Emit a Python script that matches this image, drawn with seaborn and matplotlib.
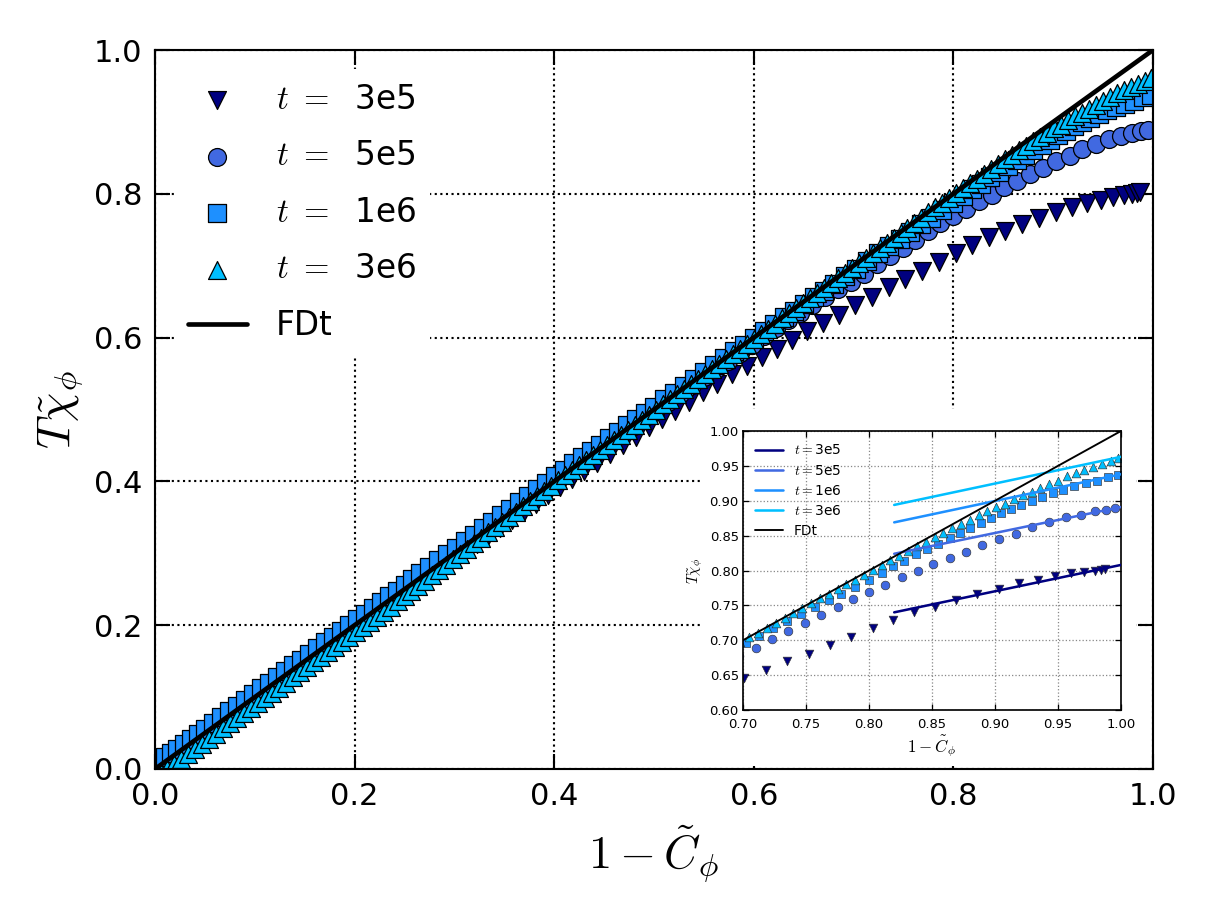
import matplotlib
matplotlib.use("Agg")
import matplotlib.pyplot as plt
from matplotlib.patches import Rectangle
import seaborn as sns

# ---------------- data ----------------
labels = ["3e5", "5e5", "1e6", "3e6"]
colors = ["#000080", "#4169E1", "#1E90FF", "#00BFFF"]
markers = ["v", "o", "s", "^"]

x_3e5 = [0.000, 0.006, 0.013, 0.020, 0.028, 0.036, 0.045, 0.054, 0.063, 0.072,
         0.081, 0.090, 0.099, 0.108, 0.117, 0.126, 0.135, 0.145, 0.155, 0.165,
         0.175, 0.185, 0.195, 0.205, 0.215, 0.225, 0.235, 0.246, 0.257, 0.268,
         0.279, 0.290, 0.301, 0.312, 0.323, 0.334, 0.346, 0.358, 0.370, 0.382,
         0.394, 0.406, 0.418, 0.430, 0.443, 0.456, 0.469, 0.482, 0.495, 0.508,
         0.521, 0.535, 0.549, 0.563, 0.578, 0.593, 0.608, 0.623, 0.638, 0.653,
         0.669, 0.685, 0.701, 0.718, 0.735, 0.752, 0.769, 0.786, 0.803, 0.819,
         0.836, 0.852, 0.869, 0.886, 0.903, 0.919, 0.934, 0.948, 0.960, 0.971,
         0.979, 0.984, 0.987]
y_3e5 = [0.000, 0.006, 0.013, 0.020, 0.027, 0.035, 0.044, 0.053, 0.062, 0.070,
         0.079, 0.088, 0.097, 0.105, 0.114, 0.123, 0.132, 0.142, 0.152, 0.161,
         0.171, 0.181, 0.191, 0.200, 0.210, 0.220, 0.229, 0.240, 0.250, 0.261,
         0.271, 0.282, 0.292, 0.303, 0.313, 0.324, 0.335, 0.346, 0.358, 0.369,
         0.381, 0.392, 0.403, 0.414, 0.426, 0.438, 0.450, 0.462, 0.475, 0.487,
         0.498, 0.511, 0.524, 0.536, 0.549, 0.560, 0.573, 0.584, 0.596, 0.609,
         0.620, 0.632, 0.646, 0.657, 0.670, 0.681, 0.693, 0.705, 0.717, 0.729,
         0.740, 0.748, 0.758, 0.766, 0.774, 0.782, 0.787, 0.792, 0.796, 0.798,
         0.800, 0.801, 0.802]

x_5e5 = [0.000, 0.008, 0.016, 0.025, 0.034, 0.043, 0.052, 0.061, 0.070, 0.080,
         0.090, 0.100, 0.110, 0.120, 0.130, 0.140, 0.150, 0.160, 0.171, 0.182,
         0.193, 0.204, 0.215, 0.226, 0.237, 0.248, 0.259, 0.270, 0.281, 0.292,
         0.303, 0.314, 0.325, 0.336, 0.347, 0.358, 0.370, 0.382, 0.394, 0.406,
         0.418, 0.430, 0.442, 0.454, 0.466, 0.478, 0.490, 0.502, 0.514, 0.526,
         0.538, 0.550, 0.562, 0.574, 0.586, 0.598, 0.610, 0.622, 0.634, 0.646,
         0.658, 0.671, 0.684, 0.697, 0.710, 0.723, 0.736, 0.749, 0.762, 0.775,
         0.787, 0.800, 0.813, 0.826, 0.839, 0.851, 0.864, 0.877, 0.890, 0.903,
         0.917, 0.929, 0.943, 0.956, 0.968, 0.979, 0.988, 0.995]
y_5e5 = [0.000, 0.008, 0.016, 0.025, 0.034, 0.043, 0.052, 0.061, 0.070, 0.080,
         0.090, 0.100, 0.110, 0.120, 0.130, 0.140, 0.150, 0.160, 0.171, 0.182,
         0.193, 0.204, 0.215, 0.226, 0.237, 0.248, 0.259, 0.270, 0.281, 0.292,
         0.303, 0.314, 0.325, 0.336, 0.347, 0.358, 0.370, 0.382, 0.394, 0.406,
         0.418, 0.429, 0.441, 0.453, 0.465, 0.476, 0.488, 0.499, 0.511, 0.522,
         0.534, 0.545, 0.556, 0.568, 0.579, 0.590, 0.602, 0.613, 0.624, 0.634,
         0.645, 0.657, 0.668, 0.677, 0.689, 0.702, 0.713, 0.725, 0.736, 0.748,
         0.759, 0.769, 0.779, 0.790, 0.799, 0.809, 0.818, 0.827, 0.836, 0.845,
         0.853, 0.862, 0.869, 0.876, 0.880, 0.885, 0.887, 0.889]

x_1e6 = [0.000, 0.005, 0.010, 0.016, 0.022, 0.029, 0.036, 0.043, 0.050, 0.058,
         0.066, 0.074, 0.082, 0.090, 0.098, 0.106, 0.114, 0.122, 0.130, 0.138,
         0.146, 0.154, 0.162, 0.170, 0.178, 0.186, 0.194, 0.202, 0.210, 0.218,
         0.226, 0.234, 0.242, 0.250, 0.258, 0.266, 0.275, 0.284, 0.293, 0.302,
         0.311, 0.320, 0.329, 0.338, 0.347, 0.356, 0.365, 0.374, 0.383, 0.392,
         0.401, 0.410, 0.419, 0.428, 0.437, 0.446, 0.455, 0.464, 0.473, 0.482,
         0.491, 0.500, 0.510, 0.520, 0.530, 0.540, 0.550, 0.560, 0.570, 0.580,
         0.590, 0.600, 0.610, 0.620, 0.630, 0.640, 0.650, 0.660, 0.670, 0.680,
         0.691, 0.702, 0.713, 0.724, 0.735, 0.746, 0.757, 0.768, 0.778, 0.789,
         0.800, 0.810, 0.819, 0.828, 0.837, 0.846, 0.855, 0.864, 0.872, 0.880,
         0.889, 0.897, 0.905, 0.913, 0.921, 0.929, 0.937, 0.946, 0.954, 0.963,
         0.972, 0.981, 0.990, 0.998]
y_1e6 = [0.004, 0.010, 0.016, 0.022, 0.028, 0.035, 0.042, 0.049, 0.056, 0.064,
         0.072, 0.080, 0.088, 0.096, 0.104, 0.112, 0.120, 0.128, 0.136, 0.144,
         0.152, 0.160, 0.168, 0.176, 0.184, 0.192, 0.200, 0.208, 0.216, 0.224,
         0.232, 0.240, 0.248, 0.256, 0.264, 0.272, 0.281, 0.290, 0.299, 0.308,
         0.317, 0.326, 0.335, 0.344, 0.353, 0.362, 0.371, 0.380, 0.389, 0.398,
         0.407, 0.416, 0.425, 0.434, 0.442, 0.451, 0.460, 0.469, 0.478, 0.487,
         0.495, 0.504, 0.514, 0.523, 0.533, 0.543, 0.552, 0.562, 0.571, 0.581,
         0.590, 0.600, 0.609, 0.619, 0.628, 0.637, 0.647, 0.656, 0.665, 0.675,
         0.685, 0.696, 0.706, 0.717, 0.727, 0.737, 0.747, 0.758, 0.767, 0.777,
         0.787, 0.797, 0.806, 0.814, 0.823, 0.831, 0.838, 0.847, 0.854, 0.861,
         0.868, 0.875, 0.882, 0.888, 0.894, 0.900, 0.906, 0.911, 0.916, 0.921,
         0.925, 0.929, 0.934, 0.937]

x_3e6 = [0.000, 0.006, 0.012, 0.019, 0.026, 0.033, 0.040, 0.047, 0.054, 0.061,
         0.068, 0.075, 0.082, 0.089, 0.096, 0.103, 0.110, 0.117, 0.124, 0.131,
         0.138, 0.145, 0.152, 0.159, 0.166, 0.173, 0.180, 0.187, 0.194, 0.201,
         0.208, 0.215, 0.222, 0.229, 0.236, 0.243, 0.250, 0.257, 0.264, 0.271,
         0.278, 0.285, 0.292, 0.299, 0.306, 0.313, 0.320, 0.327, 0.334, 0.341,
         0.348, 0.355, 0.362, 0.369, 0.376, 0.383, 0.390, 0.397, 0.404, 0.411,
         0.418, 0.425, 0.432, 0.439, 0.446, 0.453, 0.460, 0.467, 0.474, 0.481,
         0.488, 0.495, 0.502, 0.509, 0.516, 0.523, 0.530, 0.537, 0.544, 0.551,
         0.558, 0.565, 0.572, 0.579, 0.586, 0.593, 0.600, 0.607, 0.614, 0.621,
         0.628, 0.635, 0.642, 0.649, 0.656, 0.663, 0.670, 0.677, 0.684, 0.691,
         0.698, 0.705, 0.712, 0.719, 0.726, 0.733, 0.740, 0.747, 0.754, 0.761,
         0.768, 0.775, 0.782, 0.789, 0.796, 0.803, 0.810, 0.817, 0.824, 0.831,
         0.838, 0.845, 0.852, 0.859, 0.866, 0.873, 0.880, 0.887, 0.894, 0.901,
         0.908, 0.915, 0.922, 0.929, 0.936, 0.943, 0.950, 0.957, 0.964, 0.971,
         0.978, 0.985, 0.992, 0.998]
y_3e6 = [-0.012, -0.006, 0.000, 0.007, 0.014, 0.021, 0.028, 0.035, 0.042, 0.049,
         0.057, 0.064, 0.071, 0.078, 0.085, 0.092, 0.099, 0.106, 0.113, 0.120,
         0.128, 0.135, 0.142, 0.149, 0.156, 0.163, 0.170, 0.177, 0.184, 0.191,
         0.198, 0.205, 0.212, 0.219, 0.226, 0.234, 0.241, 0.248, 0.255, 0.262,
         0.270, 0.277, 0.284, 0.292, 0.299, 0.306, 0.314, 0.321, 0.329, 0.336,
         0.344, 0.351, 0.358, 0.366, 0.373, 0.380, 0.387, 0.394, 0.402, 0.409,
         0.416, 0.423, 0.430, 0.437, 0.444, 0.451, 0.458, 0.465, 0.472, 0.479,
         0.486, 0.493, 0.500, 0.507, 0.514, 0.521, 0.528, 0.535, 0.542, 0.549,
         0.556, 0.563, 0.570, 0.577, 0.584, 0.591, 0.598, 0.605, 0.612, 0.619,
         0.627, 0.634, 0.641, 0.648, 0.655, 0.662, 0.669, 0.676, 0.683, 0.690,
         0.697, 0.704, 0.711, 0.718, 0.725, 0.732, 0.739, 0.746, 0.753, 0.760,
         0.767, 0.774, 0.781, 0.787, 0.794, 0.801, 0.808, 0.815, 0.821, 0.828,
         0.835, 0.841, 0.848, 0.854, 0.861, 0.867, 0.873, 0.879, 0.885, 0.891,
         0.896, 0.902, 0.908, 0.913, 0.918, 0.924, 0.929, 0.935, 0.940, 0.944,
         0.948, 0.953, 0.957, 0.961]

# FDt reference line
fdt_x = [0.0, 1.0]
fdt_y = [0.0, 1.0]

# late-time fit lines shown in the inset
fit_x = [0.82, 1.00]
fit_3e5 = [0.740, 0.808]
fit_5e5 = [0.824, 0.891]
fit_1e6 = [0.869, 0.938]
fit_3e6 = [0.894, 0.963]

main_ticks = [0.0, 0.2, 0.4, 0.6, 0.8, 1.0]
inset_xticks = [0.70, 0.75, 0.80, 0.85, 0.90, 0.95, 1.00]
inset_yticks = [0.60, 0.65, 0.70, 0.75, 0.80, 0.85, 0.90, 0.95, 1.00]

xs = [x_3e5, x_5e5, x_1e6, x_3e6]
ys = [y_3e5, y_5e5, y_1e6, y_3e6]
fits = [fit_3e5, fit_5e5, fit_1e6, fit_3e6]

# ---------------- styling ----------------
sns.set_style("white")
plt.rcParams.update({
    "font.family": ["DejaVu Sans"],
    "mathtext.fontset": "cm",
    "text.color": "black",
    "axes.labelcolor": "black",
    "xtick.color": "black",
    "ytick.color": "black",
    "xtick.direction": "in",
    "ytick.direction": "in",
    "xtick.top": True,
    "ytick.right": True,
    "xtick.bottom": True,
    "ytick.left": True,
    "axes.edgecolor": "black",
    "axes.linewidth": 1.0,
})

W, H = 1214, 914
DPI = 152
fig = plt.figure(figsize=(W / DPI, H / DPI), dpi=DPI)
fig.patch.set_facecolor("white")

ax = fig.add_axes([155 / W, (H - 769) / H, 998 / W, 719 / H])
ax.set_zorder(0)

handles = []
for xv, yv, c, m, lab in zip(xs, ys, colors, markers, labels):
    sns.scatterplot(x=xv, y=yv, marker=m, s=72, color=c, edgecolor="black",
                    linewidth=0.6, ax=ax, legend=False, zorder=2, clip_on=True)
    h = ax.collections[-1]
    h.set_label(r"$t\ =\ $ " + lab)
    handles.append(h)

sns.lineplot(x=fdt_x, y=fdt_y, color="black", linewidth=2.2, ax=ax,
             legend=False, zorder=3)
fdt_line = ax.lines[-1]
fdt_line.set_label("FDt")
handles.append(fdt_line)

ax.set_xlim(0, 1)
ax.set_ylim(0, 1)
ax.set_xticks(main_ticks)
ax.set_yticks(main_ticks)
ax.set_xticklabels([f"{v:.1f}" for v in main_ticks])
ax.set_yticklabels([f"{v:.1f}" for v in main_ticks])
ax.tick_params(labelsize=14.5, length=7, width=1, pad=6, colors="black")
ax.grid(True, color="black", linestyle=":", linewidth=1.0)
ax.set_xlabel(r"$1-\tilde{C}_\phi$", fontsize=22, labelpad=6)
ax.set_ylabel(r"$T\tilde{\chi}_\phi$", fontsize=22, labelpad=4)

leg = ax.legend(handles=handles, loc="upper left", fontsize=15.5,
                scatterpoints=1, handlelength=1.8, handletextpad=0.9,
                labelspacing=0.72, borderaxespad=0.6, frameon=True,
                fancybox=False, framealpha=1.0)
leg.get_frame().set_edgecolor("white")
leg.get_frame().set_facecolor("white")

# white background behind the inset (covers the main grid)
fig.add_artist(Rectangle((700 / W, (H - 766) / H), 436 / W, 357 / H,
                         transform=fig.transFigure, facecolor="white",
                         edgecolor="none", zorder=1))

# ---------------- inset ----------------
axi = fig.add_axes([743 / W, (H - 710) / H, 378 / W, 279 / H])
axi.set_zorder(2)
axi.set_facecolor("white")

inset_ms = [17, 17, 16, 17]
for xv, yv, c, m, s in zip(xs, ys, colors, markers, inset_ms):
    sns.scatterplot(x=xv, y=yv, marker=m, s=s, color=c, edgecolor="#333333",
                    linewidth=0.3, ax=axi, legend=False, zorder=2)

fit_handles = []
for fv, c, lab in zip(fits, colors, labels):
    sns.lineplot(x=fit_x, y=fv, color=c, linewidth=1.2, ax=axi,
                 legend=False, zorder=3)
    ln = axi.lines[-1]
    ln.set_label(r"$t=$" + lab)
    fit_handles.append(ln)
sns.lineplot(x=fdt_x, y=fdt_y, color="black", linewidth=0.9, ax=axi,
             legend=False, zorder=3)
ln = axi.lines[-1]
ln.set_label("FDt")
fit_handles.append(ln)

axi.set_xlim(0.70, 1.00)
axi.set_ylim(0.60, 1.00)
axi.set_xticks(inset_xticks)
axi.set_yticks(inset_yticks)
axi.set_xticklabels([f"{v:.2f}" for v in inset_xticks])
axi.set_yticklabels([f"{v:.2f}" for v in inset_yticks])
axi.tick_params(axis="both", labelsize=6.2, length=3, width=0.6, colors="black")
axi.tick_params(axis="x", pad=4)
axi.tick_params(axis="y", pad=2)
for sp in axi.spines.values():
    sp.set_linewidth(0.8)
axi.grid(True, color="#888888", linestyle=":", linewidth=0.6)
axi.set_xlabel(r"$1-\tilde{C}_\phi$", fontsize=8, labelpad=1)
axi.set_ylabel(r"$T\tilde{\chi}_\phi$", fontsize=7, labelpad=2)
axi.legend(handles=fit_handles, loc="upper left", fontsize=6.5,
           handlelength=2.0, handletextpad=0.8, labelspacing=0.45,
           frameon=False, borderaxespad=0.5)

fig.savefig("out.png", dpi=DPI, facecolor="white")
